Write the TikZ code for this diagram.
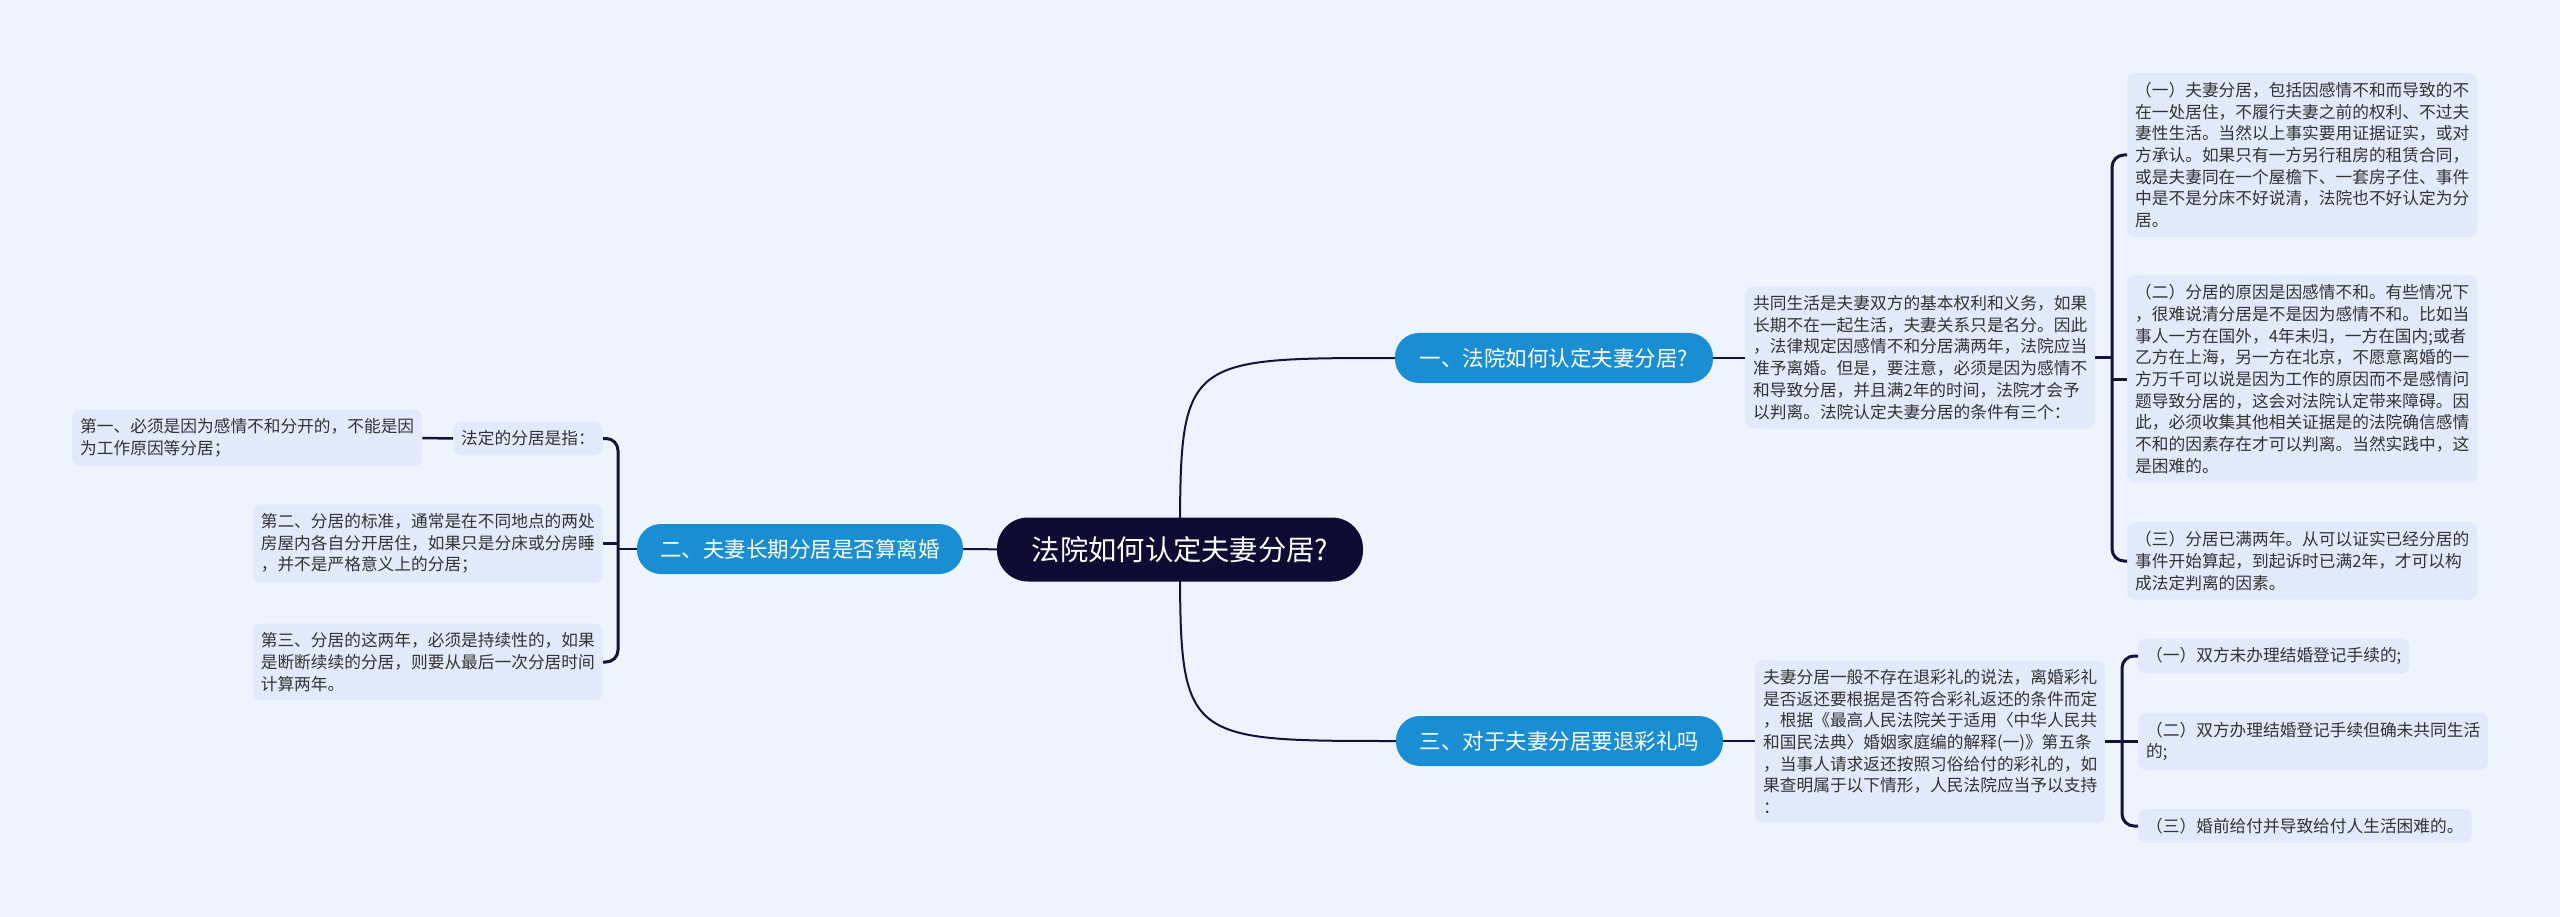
\documentclass[tikz,border=0pt]{standalone}
\usepackage{fontspec}
\setmainfont{Noto Sans CJK SC}
\usetikzlibrary{backgrounds}
\definecolor{bgc}{HTML}{EEF4FE}
\definecolor{boxc}{HTML}{E1EAFA}
\definecolor{rootc}{HTML}{0E0C33}
\definecolor{brc}{HTML}{1A8ED3}
\definecolor{linec}{HTML}{13133A}
\definecolor{txt}{HTML}{333333}
\begin{document}
\begin{tikzpicture}[x=1pt,y=-1pt,
 box/.style={fill=boxc, rounded corners=8pt, align=left, text=txt, inner xsep=8pt, inner ysep=9pt, font=\fontsize{16.7}{21.7}\selectfont},
 branch/.style={fill=brc, rounded corners=24pt, text=white, minimum height=50pt, inner xsep=0pt, font=\fontsize{21.5}{26}\selectfont},
 rootnode/.style={fill=rootc, rounded corners=31pt, text=white, minimum height=64pt, minimum width=366pt, font=\fontsize{28.3}{34}\selectfont},
 conn/.style={draw=linec, line width=2.5pt},
 curve/.style={draw=linec, line width=2pt},
 brk/.style={draw=linec, line width=3pt, rounded corners=12pt}]
\useasboundingbox (0,0) rectangle (2560,917);
\begin{pgfonlayer}{background}
\fill[bgc] (0,0) rectangle (2560,917);
\end{pgfonlayer}

% root and branches
\node[rootnode] (root) at (1180,549.5) {法院如何认定夫妻分居?};
\node[branch, minimum width=318pt] (b1) at (1554,358) {一、法院如何认定夫妻分居?};
\node[branch, minimum width=326pt] (b2) at (800,549) {二、夫妻长期分居是否算离婚};
\node[branch, minimum width=327pt] (b3) at (1559.5,741) {三、对于夫妻分居要退彩礼吗};

% branch 1
\node[box, anchor=west] (c1) at (1745,357.5) {共同生活是夫妻双方的基本权利和义务，如果\\长期不在一起生活，夫妻关系只是名分。因此\\，法律规定因感情不和分居满两年，法院应当\\准予离婚。但是，要注意，必须是因为感情不\\和导致分居，并且满2年的时间，法院才会予\\以判离。法院认定夫妻分居的条件有三个：};
\node[box, anchor=west] (c11) at (2127,155) {（一）夫妻分居，包括因感情不和而导致的不\\在一处居住，不履行夫妻之前的权利、不过夫\\妻性生活。当然以上事实要用证据证实，或对\\方承认。如果只有一方另行租房的租赁合同，\\或是夫妻同在一个屋檐下、一套房子住、事件\\中是不是分床不好说清，法院也不好认定为分\\居。};
\node[box, anchor=west] (c12) at (2127,379) {（二）分居的原因是因感情不和。有些情况下\\，很难说清分居是不是因为感情不和。比如当\\事人一方在国外，4年未归，一方在国内;或者\\乙方在上海，另一方在北京，不愿意离婚的一\\方万千可以说是因为工作的原因而不是感情问\\题导致分居的，这会对法院认定带来障碍。因\\此，必须收集其他相关证据是的法院确信感情\\不和的因素存在才可以判离。当然实践中，这\\是困难的。};
\node[box, anchor=west] (c13) at (2127,561) {（三）分居已满两年。从可以证实已经分居的\\事件开始算起，到起诉时已满2年，才可以构\\成法定判离的因素。};

% branch 3
\node[box, anchor=west] (c3) at (1755,741.5) {夫妻分居一般不存在退彩礼的说法，离婚彩礼\\是否返还要根据是否符合彩礼返还的条件而定\\，根据《最高人民法院关于适用〈中华人民共\\和国民法典〉婚姻家庭编的解释(一)》第五条\\，当事人请求返还按照习俗给付的彩礼的，如\\果查明属于以下情形，人民法院应当予以支持\\：};
\node[box, anchor=west] (d1) at (2138,656) {（一）双方未办理结婚登记手续的;};
\node[box, anchor=west] (d2) at (2138,741.5) {（二）双方办理结婚登记手续但确未共同生活\\的;};
\node[box, anchor=west] (d3) at (2138,826) {（三）婚前给付并导致给付人生活困难的。};

% branch 2
\node[box, anchor=east] (a0) at (603,438.5) {法定的分居是指：};
\node[box, anchor=west] (a1) at (72,438) {第一、必须是因为感情不和分开的，不能是因\\为工作原因等分居；};
\node[box, anchor=east] (a2) at (603,543.5) {第二、分居的标准，通常是在不同地点的两处\\房屋内各自分开居住，如果只是分床或分房睡\\，并不是严格意义上的分居；};
\node[box, anchor=east] (a3) at (603,662) {第三、分居的这两年，必须是持续性的，如果\\是断断续续的分居，则要从最后一次分居时间\\计算两年。};

\coordinate (k1) at (2112,379);
\coordinate (k3) at (2122,741.5);
\coordinate (k2) at (618,549);

\begin{pgfonlayer}{background}
\draw[curve] (root.center) .. controls (root.center |- b1.west) .. (b1.west);
\draw[curve] (root.center) .. controls (root.center |- b3.west) .. (b3.west);
\draw[curve] (root.center) -- (b2.center);
\end{pgfonlayer}

\draw[conn] (b1.east) -- (b1.east -| c1.west);
\draw[conn] (c1.east) -- (c1.east -| k1);
\draw[brk] (c11.west) -| (k1) |- (c13.west);
\draw[brk] (k1) -- (c12.west);

\draw[conn] (b3.east) -- (b3.east -| c3.west);
\draw[conn] (c3.east) -- (c3.east -| k3);
\draw[brk] (d1.west) -| (k3) |- (d3.west);
\draw[brk] (k3) -- (d2.west);

\draw[conn] (b2.west) -- (k2);
\draw[brk] (a0.east) -| (k2) |- (a3.east);
\draw[brk] (a2.east) -- (a2.east -| k2);
\draw[conn] (a1.east) -- (a0.west);
\end{tikzpicture}
\end{document}
